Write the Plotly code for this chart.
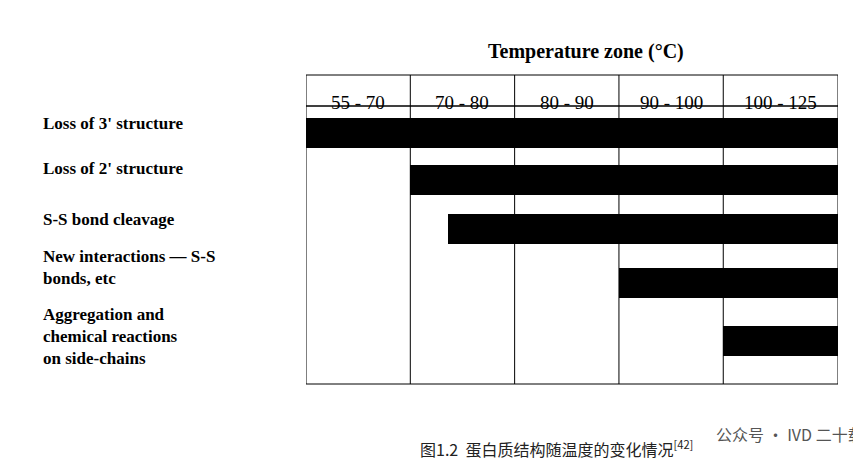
import plotly.graph_objects as go

# temperature zones (column headers) and their boundaries on a column-index scale
zones = ["55 - 70", "70 - 80", "80 - 90", "90 - 100", "100 - 125"]
edges = [0, 1, 2, 3, 4, 5.1]

events = ["Loss of 3' structure", "Loss of 2' structure", "S-S bond cleavage",
          "New interactions — S-S<br>bonds, etc",
          "Aggregation and<br>chemical reactions<br>on side-chains"]
bar_start = [0, 1, 1.36, 3, 4]
bar_end = [5.1, 5.1, 5.1, 5.1, 5.1]
row_pos = [0.52, 1.42, 2.37, 3.40, 4.52]
label_top = [0.12, 0.98, 1.96, 2.67, 3.80]

SERIF = "Liberation Serif"
PW, PH = 532, 278  # plot area in px

fig = go.Figure()
fig.add_trace(go.Bar(
    y=row_pos, x=[e - s for s, e in zip(bar_start, bar_end)], base=bar_start,
    orientation="h", width=0.58, marker_color="black", marker_line_width=0,
    showlegend=False, hoverinfo="skip"))

# header row
hdr_h = 31 / PH
fig.add_shape(type="rect", xref="x", yref="paper", x0=edges[0], x1=edges[-1],
              y0=1, y1=1 + hdr_h, line=dict(color="black", width=1))
for i, z in enumerate(zones):
    fig.add_annotation(x=(edges[i] + edges[i + 1]) / 2, y=1 + hdr_h / 2, xref="x", yref="paper",
                       text=z, showarrow=False, font=dict(family=SERIF, size=19, color="black"))
for e in edges[1:-1]:
    fig.add_shape(type="line", xref="x", yref="paper", x0=e, x1=e, y0=0, y1=1 + hdr_h,
                  line=dict(color="black", width=1))
fig.add_shape(type="rect", xref="x", yref="paper", x0=edges[0], x1=edges[-1], y0=0, y1=1,
              line=dict(color="black", width=1))

for t, y in zip(events, label_top):
    fig.add_annotation(x=(33 - 298) / PW, y=y, xref="paper", yref="y", yanchor="top", text="<b>" + t + "</b>",
                       showarrow=False, xanchor="left", align="left",
                       font=dict(family=SERIF, size=17, color="black"))

fig.add_annotation(x=(578 - 298) / PW, y=1 + (98 - 30) / PH, xref="paper", yref="paper",
                   text="<b>Temperature zone (°C)</b>", showarrow=False,
                   font=dict(family=SERIF, size=20, color="black"))
fig.add_annotation(x=(410 - 298) / PW, y=-(455 - 376) / PH, xref="paper", yref="paper",
                   text="图1.2  蛋白质结构随温度的变化情况<sup>[42]</sup>", showarrow=False,
                   font=dict(family="Noto Sans CJK SC", size=16, color="#222"))
fig.add_annotation(x=(858 - 298) / PW, y=-(440 - 376) / PH, xref="paper", yref="paper",
                   xanchor="right", text="公众号 · IVD 二十载", showarrow=False,
                   font=dict(family="Noto Sans CJK SC", size=16, color="#555"))

fig.update_xaxes(range=[edges[0], edges[-1]], showgrid=False, zeroline=False,
                 showticklabels=False, fixedrange=True)
fig.update_yaxes(range=[5.35, 0], showgrid=False, zeroline=False, showticklabels=False)
fig.update_layout(width=861, height=476, margin=dict(l=298, r=31, t=98, b=100),
                  plot_bgcolor="white", paper_bgcolor="white", bargap=0)
fig.write_html("out.html")
